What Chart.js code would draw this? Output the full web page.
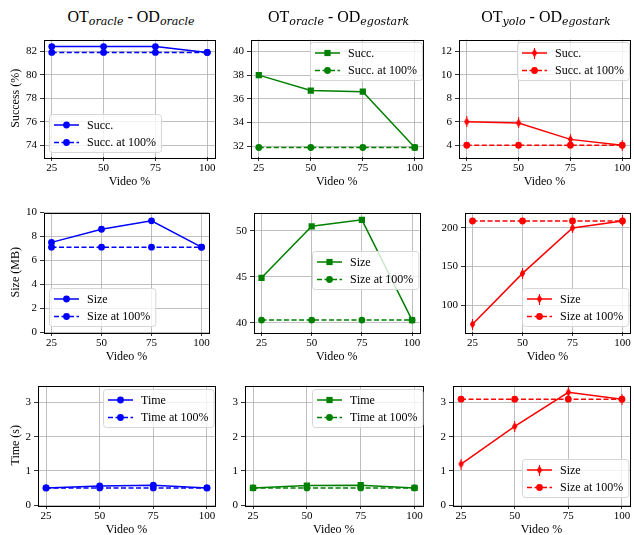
<!DOCTYPE html>
<html>
<head>
<meta charset="utf-8">
<script src="https://cdn.jsdelivr.net/npm/chart.js@4.4.0/dist/chart.umd.min.js"></script>
<style>
  html, body { margin: 0; padding: 0; background: #fff; }
  #fig { position: relative; width: 634px; height: 535px; overflow: hidden; background: #fff; }
  canvas.panel { position: absolute; }
  .title {
    position: absolute; transform: translate(-50%, -50%);
    font-family: "Liberation Serif", serif; font-size: 16px; line-height: 1;
    color: #000; white-space: nowrap;
  }
  .title sub { font-family: "DejaVu Serif", serif; font-style: italic; font-size: 11px; vertical-align: -3px; }
</style>
</head>
<body>
<div id="fig"></div>
<script>
// x values shared by every panel
const VIDEO = [25, 50, 75, 100]
const X_TICKS = [25, 50, 75, 100]

// row 1 : success rate
const SUCC_OO = [82.4, 82.4, 82.4, 81.9]
const SUCC_OO_FULL = [81.9, 81.9, 81.9, 81.9]
const SUCC_OE = [38.0, 36.7, 36.6, 31.9]
const SUCC_OE_FULL = [31.9, 31.9, 31.9, 31.9]
const SUCC_YE = [6.0, 5.9, 4.5, 4.0]
const SUCC_YE_FULL = [4.0, 4.0, 4.0, 4.0]

// row 2 : size
const SIZE_OO = [7.5, 8.6, 9.3, 7.1]
const SIZE_OO_FULL = [7.1, 7.1, 7.1, 7.1]
const SIZE_OE = [44.9, 50.5, 51.2, 40.3]
const SIZE_OE_FULL = [40.3, 40.3, 40.3, 40.3]
const SIZE_YE = [75, 141, 200, 209]
const SIZE_YE_FULL = [209, 209, 209, 209]

// row 3 : time
const TIME_OO = [0.5, 0.56, 0.58, 0.5]
const TIME_OO_FULL = [0.5, 0.5, 0.5, 0.5]
const TIME_OE = [0.5, 0.57, 0.58, 0.5]
const TIME_OE_FULL = [0.5, 0.5, 0.5, 0.5]
const TIME_YE = [1.2, 2.3, 3.3, 3.1]
const TIME_YE_FULL = [3.1, 3.1, 3.1, 3.1]

// y tick labels
const TICKS_SUCC_OO = [74, 76, 78, 80, 82]
const TICKS_SUCC_OE = [32, 34, 36, 38, 40]
const TICKS_SUCC_YE = [4, 6, 8, 10, 12]
const TICKS_SIZE_OO = [0, 2, 4, 6, 8, 10]
const TICKS_SIZE_OE = [40, 45, 50]
const TICKS_SIZE_YE = [100, 150, 200]
const TICKS_TIME = [0, 1, 2, 3]

const BLUE = "#0000ff"
const GREEN = "#008000"
const RED = "#ff0000"
const GRID = "#b0b0b0"
const SERIF = "'Liberation Serif', 'Times New Roman', serif"

const Y_W = 45   // room left of each plot for y ticks
const X_H = 32   // room under each plot for x ticks + label

// thin diamond marker, like matplotlib 'd'
function thinDiamond(color) {
  const c = document.createElement("canvas")
  c.width = 7
  c.height = 11
  const g = c.getContext("2d")
  g.fillStyle = color
  g.beginPath()
  g.moveTo(3.5, 1)
  g.lineTo(6.2, 5.5)
  g.lineTo(3.5, 10)
  g.lineTo(0.8, 5.5)
  g.closePath()
  g.fill()
  g.fillRect(3, 0, 1, 11)
  return c
}

const PANELS = [
  { sub: ["oracle", "oracle"], ylabel: "Success (%)", main: SUCC_OO, full: SUCC_OO_FULL, names: ["Succ.", "Succ. at 100%"],
    color: BLUE, marker: "circle", yMin: 73, yMax: 83, yTicks: TICKS_SUCC_OO, box: [44, 37, 218, 157], legend: [49, 114] },
  { sub: ["oracle", "egostark"], main: SUCC_OE, full: SUCC_OE_FULL, names: ["Succ.", "Succ. at 100%"],
    color: GREEN, marker: "rect", yMin: 31.1, yMax: 41, yTicks: TICKS_SUCC_OE, box: [251, 37, 426, 157], legend: [310, 42] },
  { sub: ["yolo", "egostark"], main: SUCC_YE, full: SUCC_YE_FULL, names: ["Succ.", "Succ. at 100%"],
    color: RED, marker: "diamond", yMin: 3, yMax: 13, yTicks: TICKS_SUCC_YE, box: [459, 37, 633, 157], legend: [517, 42] },

  { ylabel: "Size (MB)", main: SIZE_OO, full: SIZE_OO_FULL, names: ["Size", "Size at 100%"],
    color: BLUE, marker: "circle", yMin: 0, yMax: 10, yTicks: TICKS_SIZE_OO, box: [44, 210, 212, 332], legend: [49, 288] },
  { main: SIZE_OE, full: SIZE_OE_FULL, names: ["Size", "Size at 100%"],
    color: GREEN, marker: "rect", yMin: 39, yMax: 52, yTicks: TICKS_SIZE_OE, box: [254, 210, 423, 332], legend: [312, 251] },
  { main: SIZE_YE, full: SIZE_YE_FULL, names: ["Size", "Size at 100%"],
    color: RED, marker: "diamond", yMin: 65, yMax: 220, yTicks: TICKS_SIZE_YE, box: [465, 210, 633, 332], legend: [522, 288] },

  { ylabel: "Time (s)", main: TIME_OO, full: TIME_OO_FULL, names: ["Time", "Time at 100%"],
    color: BLUE, marker: "circle", yMin: 0, yMax: 3.5, yTicks: TICKS_TIME, box: [38, 383, 218, 505], legend: [103, 389] },
  { main: TIME_OE, full: TIME_OE_FULL, names: ["Time", "Time at 100%"],
    color: GREEN, marker: "rect", yMin: 0, yMax: 3.5, yTicks: TICKS_TIME, box: [245, 383, 426, 505], legend: [312, 389] },
  { main: TIME_YE, full: TIME_YE_FULL, names: ["Size", "Size at 100%"],
    color: RED, marker: "diamond", yMin: 0, yMax: 3.5, yTicks: TICKS_TIME, box: [453, 383, 633, 505], legend: [522, 459] },
]

function pointStyleOf(p) {
  if (p.marker === "diamond") return thinDiamond(p.color)
  return p.marker
}
function pointRadiusOf(p) {
  return p.marker === "rect" ? 4.4 : 3.4
}

function drawMarker(ctx, style, color, x, y, r) {
  ctx.fillStyle = color
  if (style instanceof HTMLCanvasElement) {
    ctx.drawImage(style, x - style.width / 2, y - style.height / 2)
  } else if (style === "rect") {
    const s = r * Math.SQRT1_2
    ctx.fillRect(x - s, y - s, 2 * s, 2 * s)
  } else {
    ctx.beginPath()
    ctx.arc(x, y, r, 0, Math.PI * 2)
    ctx.fill()
  }
}

// black frame round the plot area, like matplotlib spines
const framePlugin = {
  id: "frame",
  afterDatasetsDraw(chart) {
    const { ctx, chartArea: a } = chart
    ctx.save()
    ctx.strokeStyle = "#000"
    ctx.lineWidth = 1
    ctx.strokeRect(Math.round(a.left) + 0.5, Math.round(a.top) + 0.5,
      Math.round(a.right - a.left), Math.round(a.bottom - a.top))
    ctx.restore()
  }
}

// legend box placed inside the axes
function makeLegend(p) {
  return {
    id: "boxLegend",
    afterDraw(chart) {
      const ctx = chart.ctx
      const ox = p.box[0] - Y_W
      const oy = p.box[1] - 6
      const x0 = p.legend[0] - ox
      const y0 = p.legend[1] - oy
      ctx.save()
      ctx.font = "12px " + SERIF
      const tw = Math.max(...p.names.map(n => ctx.measureText(n).width))
      const w = 38 + tw + 5
      const h = 38
      ctx.beginPath()
      ctx.roundRect(x0 + 0.5, y0 + 0.5, w, h, 3)
      ctx.fillStyle = "rgba(255,255,255,0.8)"
      ctx.fill()
      ctx.strokeStyle = "#d6d6d6"
      ctx.lineWidth = 1
      ctx.stroke()

      const styles = [pointStyleOf(p), "circle"]
      p.names.forEach((name, i) => {
        const cy = y0 + 11 + i * 17.5
        ctx.strokeStyle = p.color
        ctx.lineWidth = 1.5
        ctx.setLineDash(i === 1 ? [5, 2.5] : [])
        ctx.beginPath()
        ctx.moveTo(x0 + 5, cy)
        ctx.lineTo(x0 + 30, cy)
        ctx.stroke()
        ctx.setLineDash([])
        drawMarker(ctx, styles[i], p.color, x0 + 17.5, cy, i === 0 ? pointRadiusOf(p) : 3.4)
        ctx.fillStyle = "#000"
        ctx.textBaseline = "middle"
        ctx.textAlign = "left"
        ctx.fillText(name, x0 + 38, cy + 0.5)
      })
      ctx.restore()
    }
  }
}

function series(values) {
  return VIDEO.map((x, i) => ({ x: x, y: values[i] }))
}

function mountPanel(fig, p) {
  const [l, t, r, b] = p.box
  const canvas = document.createElement("canvas")
  canvas.className = "panel"
  const cw = (r - l) + Y_W + 1
  const ch = (b - t) + 6 + X_H
  canvas.width = cw
  canvas.height = ch
  canvas.style.left = (l - Y_W) + "px"
  canvas.style.top = (t - 6) + "px"
  canvas.style.width = cw + "px"
  canvas.style.height = ch + "px"
  fig.appendChild(canvas)

  const tickFont = { family: SERIF, size: 11, lineHeight: 1 }
  const labelFont = { family: SERIF, size: 12, lineHeight: 1.2 }
  const gridOpts = { color: GRID, lineWidth: 0.8, tickColor: "#000", tickLength: 4, tickWidth: 0.8 }

  // y title sits near x = 16 on the page
  const yTitlePad = 16 - (l - Y_W) - 7.2

  new Chart(canvas, {
    type: "line",
    data: {
      datasets: [
        { label: p.names[1], data: series(p.full), order: 0,
          borderColor: p.color, backgroundColor: p.color, borderWidth: 1.5, borderDash: [5, 2.5],
          pointStyle: "circle", pointRadius: 3.4, pointBorderWidth: 0, tension: 0 },
        { label: p.names[0], data: series(p.main), order: 1,
          borderColor: p.color, backgroundColor: p.color, borderWidth: 1.5,
          pointStyle: pointStyleOf(p), pointRadius: pointRadiusOf(p), pointBorderWidth: 0, tension: 0 },
      ]
    },
    options: {
      animation: false,
      responsive: false,
      devicePixelRatio: 1,
      layout: { padding: { top: 6, right: 1, left: 0, bottom: 0 } },
      plugins: { legend: { display: false }, tooltip: { enabled: false } },
      scales: {
        x: {
          type: "linear", min: 21.25, max: 103.75,
          afterBuildTicks: s => { s.ticks = X_TICKS.map(v => ({ value: v })) },
          afterFit: s => { s.height = X_H },
          grid: gridOpts,
          border: { display: false },
          ticks: { font: tickFont, color: "#000", padding: 1.5, maxRotation: 0, autoSkip: false },
          title: { display: true, text: "Video %", font: labelFont, color: "#000", padding: 0 },
        },
        y: {
          type: "linear", min: p.yMin, max: p.yMax,
          afterBuildTicks: s => { s.ticks = p.yTicks.map(v => ({ value: v })) },
          afterFit: s => { s.width = Y_W },
          grid: gridOpts,
          border: { display: false },
          ticks: { font: tickFont, color: "#000", padding: 3, autoSkip: false },
          title: { display: !!p.ylabel, text: p.ylabel || "", font: labelFont, color: "#000", padding: yTitlePad },
        }
      }
    },
    plugins: [framePlugin, makeLegend(p)]
  })

  if (p.sub) {
    const title = document.createElement("div")
    title.className = "title"
    title.style.left = ((l + r) / 2) + "px"
    title.style.top = "18px"
    title.innerHTML = "OT<sub>" + p.sub[0] + "</sub> - OD<sub>" + p.sub[1] + "</sub>"
    fig.appendChild(title)
  }
}

const fig = document.getElementById("fig")
PANELS.forEach(p => mountPanel(fig, p))
</script>
</body>
</html>
